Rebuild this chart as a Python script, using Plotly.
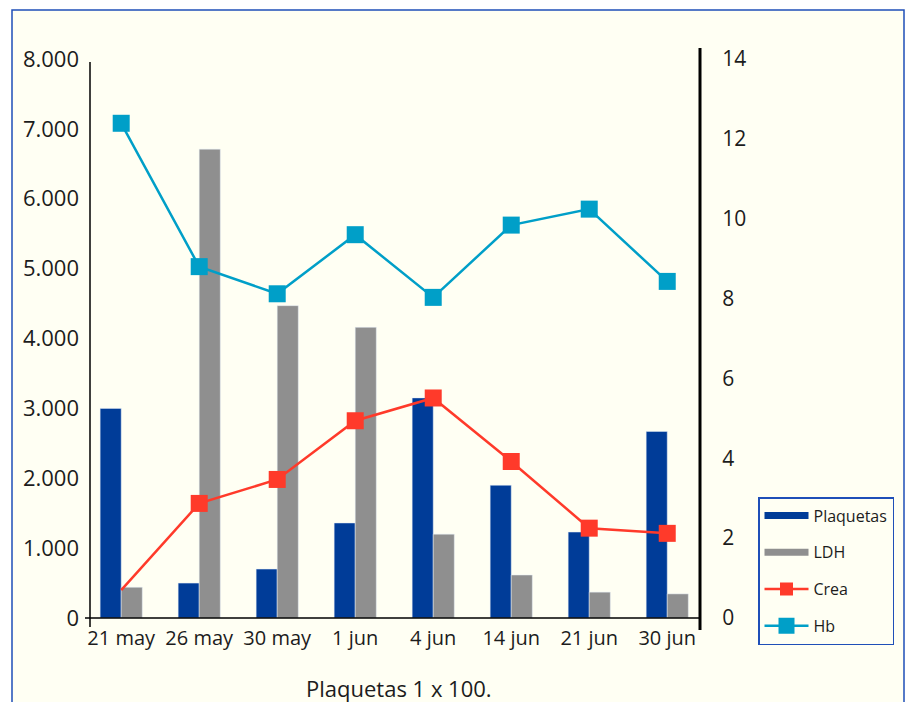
import plotly.graph_objects as go

# Fechas de control
fechas = ["21 may", "26 may", "30 may", "1 jun", "4 jun", "14 jun", "21 jun", "30 jun"]

# Eje izquierdo (plaquetas x 100 y LDH)
plaquetas = [3000, 500, 700, 1360, 3150, 1900, 1230, 2670]
ldh = [440, 6710, 4470, 4160, 1200, 615, 370, 345]

# Eje derecho (creatinina y hemoglobina)
crea = [0.7, 2.87, 3.47, 4.94, 5.51, 3.92, 2.25, 2.12]
hb = [12.39, 8.8, 8.12, 9.6, 8.03, 9.84, 10.24, 8.43]

left_ticks = [0, 1000, 2000, 3000, 4000, 5000, 6000, 7000, 8000]
right_ticks = [0, 2, 4, 6, 8, 10, 12, 14]

C_PLAQ = "#003c98"
C_LDH = "#8f8f8f"
C_CREA = "#ff3a2a"
C_HB = "#009fc8"
BG = "#fffff3"
FRAME = "#1f4fb8"
TXT = "#1c1c1c"
FONT = "Open Sans"

x = list(range(len(fechas)))

fig = go.Figure()

fig.add_trace(go.Bar(x=x, y=plaquetas, name="Plaquetas", marker_color=C_PLAQ,
                     showlegend=False, yaxis="y"))
fig.add_trace(go.Bar(x=x, y=ldh, name="LDH", marker_color=C_LDH,
                     showlegend=False, yaxis="y"))

# Legend swatches drawn as thick lines for the bar series
fig.add_trace(go.Scatter(x=[None], y=[None], mode="lines", name="Plaquetas",
                         line=dict(color=C_PLAQ, width=7), legendgroup="a"))
fig.add_trace(go.Scatter(x=[None], y=[None], mode="lines", name="LDH",
                         line=dict(color=C_LDH, width=7), legendgroup="b"))

crea_sizes = [0] + [17] * (len(crea) - 1)
fig.add_trace(go.Scatter(x=x, y=crea, name="Crea", mode="lines+markers", yaxis="y2",
                         line=dict(color=C_CREA, width=2.5),
                         marker=dict(symbol="square", size=crea_sizes, color=C_CREA,
                                     opacity=1, line=dict(width=0)),
                         legendgroup="c", showlegend=False))
fig.add_trace(go.Scatter(x=[None], y=[None], name="Crea", mode="lines+markers", yaxis="y2",
                         line=dict(color=C_CREA, width=2.5),
                         marker=dict(symbol="square", size=13, color=C_CREA,
                                     line=dict(width=0)),
                         legendgroup="c"))
fig.add_trace(go.Scatter(x=x, y=hb, name="Hb", mode="lines+markers", yaxis="y2",
                         line=dict(color=C_HB, width=2.5),
                         marker=dict(symbol="square", size=17, color=C_HB,
                                     opacity=1, line=dict(width=0)),
                         legendgroup="d"))

L, R, T, B = 90, 209, 59, 84
W, H = 909, 702
pw, ph = W - L - R, H - T - B


def px(v):
    return (v - L) / pw


def py(v):
    return (H - B - v) / ph


shapes = [
    # outer frame
    dict(type="rect", xref="paper", yref="paper", layer="below",
         x0=px(12), x1=px(904), y0=py(720), y1=py(10),
         fillcolor=BG, line=dict(color=FRAME, width=1.5)),
    # right axis line, extended past the plot area
    dict(type="line", xref="paper", yref="paper",
         x0=1, x1=1, y0=py(630), y1=py(48),
         line=dict(color="black", width=3)),
    # left axis small extension below zero
    dict(type="line", xref="paper", yref="paper",
         x0=0, x1=0, y0=py(627), y1=py(62),
         line=dict(color="black", width=1.5)),
    # category axis small extension left of the origin
    dict(type="line", xref="paper", yref="paper",
         x0=px(85), x1=1, y0=0, y1=0,
         line=dict(color="black", width=1.5)),
]

fig.update_layout(
    width=W, height=H,
    margin=dict(l=L, r=R, t=T, b=B, autoexpand=False),
    paper_bgcolor="white",
    plot_bgcolor="rgba(0,0,0,0)",
    barmode="group", bargap=0.46, bargroupgap=0,
    separators=",.",
    font=dict(family=FONT, color=TXT, size=20),
    shapes=shapes,
    legend=dict(x=px(758), y=py(497), xanchor="left", yanchor="top",
                bgcolor=BG, bordercolor=FRAME, borderwidth=1.5,
                font=dict(size=16, family=FONT, color=TXT),
                tracegroupgap=13, itemwidth=44),
    annotations=[dict(text="Plaquetas 1 x 100.", xref="paper", yref="paper",
                      x=px(399), y=py(688), xanchor="center", yanchor="middle",
                      showarrow=False, font=dict(size=22, family=FONT, color=TXT))],
    xaxis=dict(range=[-0.4, 7.42], tickmode="array", tickvals=x, ticktext=fechas,
               showgrid=False, zeroline=False, showline=False,
               ticks="", tickfont=dict(size=20), ticklabelstandoff=6),
    yaxis=dict(range=[0, 8000], tickvals=left_ticks, tickformat=",d",
               showgrid=False, zeroline=False, showline=False,
               ticks="", tickfont=dict(size=22), ticklabelstandoff=10),
    yaxis2=dict(range=[0, 14], tickvals=right_ticks, overlaying="y", side="right",
                anchor="x", showgrid=False, zeroline=False, showline=False,
                ticks="outside", ticklen=17, tickcolor="rgba(0,0,0,0)",
                tickangle=0, tickfont=dict(size=21)),
)

fig.write_html("out.html")
